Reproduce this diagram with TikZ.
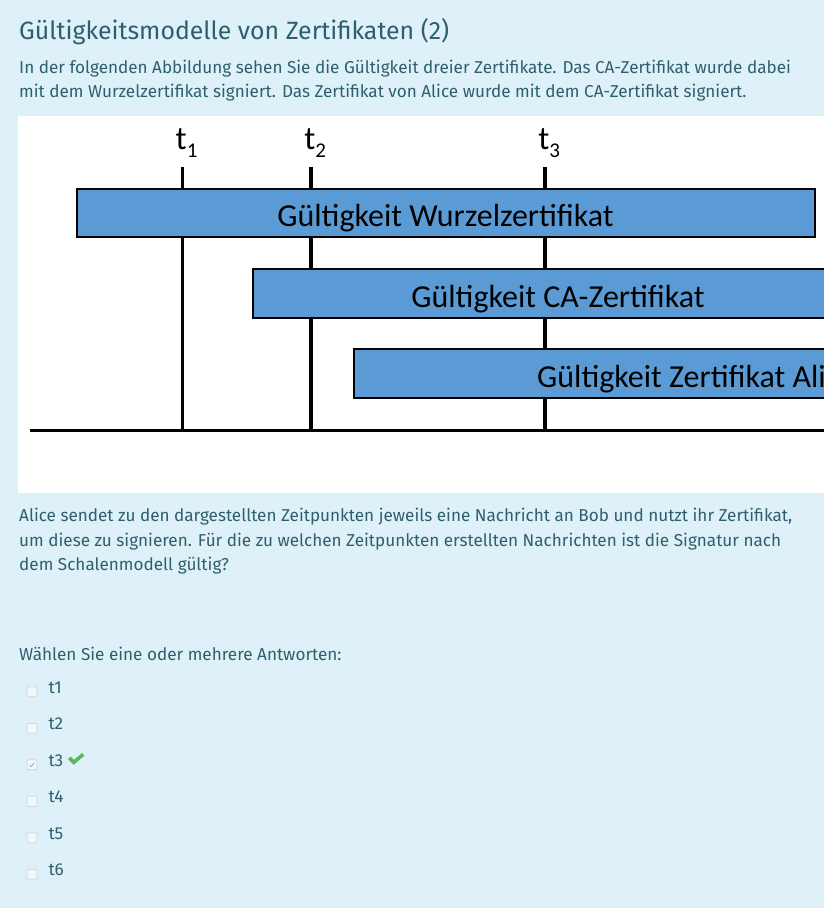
\documentclass[tikz,border=0pt]{standalone}
\usepackage{fontspec}
\setmainfont{Fira Sans}
\newfontfamily\bodyfont{Fira Sans}
\newfontfamily\diafont{Carlito}
\definecolor{bgblue}{HTML}{DFF1F8}
\definecolor{txtcol}{HTML}{2E5F6E}
\definecolor{boxblue}{HTML}{5B9BD5}
\definecolor{okgreen}{HTML}{5CB85C}
\definecolor{cbborder}{HTML}{CDD6DA}
\definecolor{cbfill}{HTML}{F2F7F9}
\newlength\mywd
\newlength\mytwd
\begin{document}
\settowidth\mywd{\bodyfont\fontsize{17.2}{20}\selectfont Alice sendet zu den dargestellten Zeitpunkten jeweils eine Nachricht an Bob und nutzt ihr Zertifikat,}%
\pgfmathsetmacro\bsx{773/\mywd}%
\settowidth\mytwd{\bodyfont\fontsize{25}{28}\selectfont Gültigkeitsmodelle von Zertifikaten (2)}%
\pgfmathsetmacro\tsx{430/\mytwd}%
\begin{tikzpicture}[x=1pt,y=-1pt,
  bodytext/.style={inner sep=0pt, anchor=base west, text=txtcol, font=\bodyfont\fontsize{17.2}{20}\selectfont},
  titletext/.style={inner sep=0pt, anchor=base west, text=txtcol, font=\bodyfont\fontsize{25}{28}\selectfont},
  certbox/.style={draw=black, line width=2pt, fill=boxblue, inner sep=0pt},
  boxtext/.style={inner sep=0pt, text=black, font=\diafont\fontsize{32}{36}\selectfont},
  tlab/.style={inner sep=0pt, anchor=base west, text=black, font=\diafont\fontsize{33}{36}\selectfont},
  tline/.style={line width=3.5pt, draw=black},
  axis/.style={line width=2.5pt, draw=black},
  cbox/.style={draw=cbborder, fill=cbfill, line width=0.8pt, rounded corners=1pt, minimum width=10pt, minimum height=10pt, inner sep=0pt},
  tickmark/.style={draw=okgreen, line width=3.6pt, line join=miter}
]
\useasboundingbox (0,0) rectangle (824,918);
\clip (0,0) rectangle (824,918);
\fill[white] (0,0) rectangle (824,918);
\fill[bgblue] (0,0) rectangle (824,908);
\fill[white] (18.3,115.7) rectangle (830,493.3);

% texts
\node[titletext] (title) at (19,39.5) {\scalebox{\tsx}[1]{Gültigkeitsmodelle von Zertifikaten (2)}};
\node[bodytext] (p1a) at (19,73) {\scalebox{\bsx}[1]{In der folgenden Abbildung sehen Sie die Gültigkeit dreier Zertifikate. Das CA-Zertifikat wurde dabei}};
\node[bodytext] (p1b) at (19,97.5) {\scalebox{\bsx}[1]{mit dem Wurzelzertifikat signiert. Das Zertifikat von Alice wurde mit dem CA-Zertifikat signiert.}};
\node[bodytext] (p2a) at (19,521.7) {\scalebox{\bsx}[1]{Alice sendet zu den dargestellten Zeitpunkten jeweils eine Nachricht an Bob und nutzt ihr Zertifikat,}};
\node[bodytext] (p2b) at (19,546.2) {\scalebox{\bsx}[1]{um diese zu signieren. Für die zu welchen Zeitpunkten erstellten Nachrichten ist die Signatur nach}};
\node[bodytext] (p2c) at (19,570.7) {\scalebox{\bsx}[1]{dem Schalenmodell gültig?}};
\node[bodytext] (ask) at (19,660.7) {\scalebox{\bsx}[1]{Wählen Sie eine oder mehrere Antworten:}};

% options
\foreach \i/\yy in {1/693.3,2/729.8,3/766.3,4/802.8,5/839.3,6/875.8}{
  \node[cbox] (cb\i) at (32,\yy-1.5) {};
  \node[bodytext] (opt\i) at (48.3,\yy) {t\i};
}
\draw[draw=gray!80, line width=0.6pt] ([shift={(-2.5,0)}]cb3.center) -- ([shift={(-0.8,1.8)}]cb3.center) -- ([shift={(2.6,-2.2)}]cb3.center);
\coordinate (ckA) at (69.3,757.8);
\coordinate (ckB) at (73.8,762.3);
\coordinate (ckC) at (83.3,754.3);
\draw[tickmark] (ckA) -- (ckB) -- (ckC);

% timeline
\coordinate (t1top) at (182.3,167.3);
\coordinate (t1bot) at (182.3,430.7);
\coordinate (t2top) at (311,167.3);
\coordinate (t2bot) at (311,430.7);
\coordinate (t3top) at (545,167.3);
\coordinate (t3bot) at (545,430.7);
\coordinate (axL) at (30,430.7);
\coordinate (axR) at (830,430.7);
\draw[axis] (axL) -- (axR);
\draw[tline] (t1top) -- (t1bot);
\draw[tline] (t2top) -- (t2bot);
\draw[tline] (t3top) -- (t3bot);

\node[tlab] (lt1) at (175.5,149.3) {t\raisebox{-7.7pt}{\fontsize{21}{21}\selectfont 1}};
\node[tlab] (lt2) at (304.2,149.3) {t\raisebox{-7.7pt}{\fontsize{21}{21}\selectfont 2}};
\node[tlab] (lt3) at (538.2,149.3) {t\raisebox{-7.7pt}{\fontsize{21}{21}\selectfont 3}};

% boxes
\node[certbox, minimum width=738.3pt, minimum height=48.3pt] (root) at (445.85,213.15) {};
\node[certbox, minimum width=600pt, minimum height=49pt] (ca) at (552.7,293.5) {};
\node[certbox, minimum width=500pt, minimum height=49pt] (alice) at (603.7,373.2) {};
\node[boxtext, anchor=base] (lroot) at (445.5,226.5) {Gültigkeit Wurzelzertifikat};
\node[boxtext, anchor=base west] (lca) at (411.2,307) {Gültigkeit CA-Zertifikat};
\node[boxtext, anchor=base west] (lalice) at (537,387) {Gültigkeit Zertifikat Alice};
\end{tikzpicture}
\end{document}
